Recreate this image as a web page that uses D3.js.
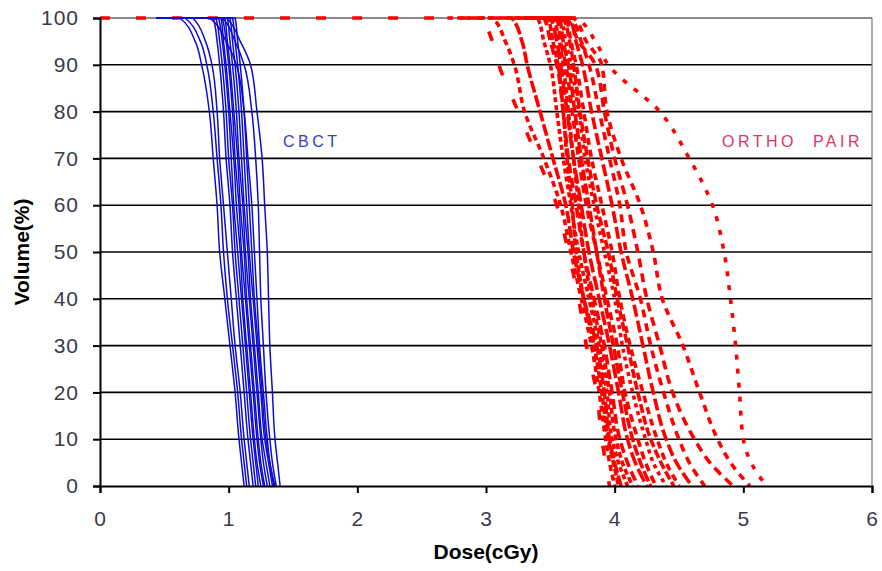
<!DOCTYPE html>
<html>
<head>
<meta charset="utf-8">
<script src="https://cdn.jsdelivr.net/npm/d3@7"></script>
<style>
  body { margin: 0; background: #fff; }
  text { font-family: "Liberation Sans", Arial, sans-serif; }
</style>
</head>
<body>
<svg width="882" height="571"></svg>
<script>
// volume levels (%) shared by every DVH curve
var volumes = [100, 100, 95, 90, 80, 70, 60, 50, 40, 30, 20, 10, 5, 0];

// CBCT curves: dose (cGy) at each volume level
var cbctDoses = [
  [0.44, 0.62, 0.74, 0.79, 0.85, 0.88, 0.91, 0.93, 0.97, 1.01, 1.05, 1.08, 1.10, 1.12],
  [0.44, 0.66, 0.78, 0.83, 0.88, 0.91, 0.94, 0.96, 0.99, 1.03, 1.07, 1.10, 1.12, 1.14],
  [0.44, 0.72, 0.82, 0.87, 0.91, 0.93, 0.96, 0.99, 1.02, 1.05, 1.09, 1.12, 1.14, 1.16],
  [0.44, 0.85, 0.98, 1.06, 1.12, 1.15, 1.18, 1.20, 1.22, 1.24, 1.27, 1.30, 1.32, 1.35],
  [0.44, 0.88, 0.91, 0.93, 0.96, 0.98, 1.01, 1.03, 1.06, 1.09, 1.12, 1.15, 1.17, 1.19],
  [0.44, 0.90, 0.93, 0.95, 0.98, 1.00, 1.03, 1.05, 1.08, 1.11, 1.14, 1.17, 1.19, 1.21],
  [0.44, 0.92, 0.95, 0.97, 1.00, 1.02, 1.04, 1.07, 1.10, 1.13, 1.16, 1.19, 1.21, 1.23],
  [0.44, 0.94, 0.96, 0.98, 1.01, 1.04, 1.06, 1.09, 1.11, 1.14, 1.17, 1.20, 1.22, 1.25],
  [0.44, 0.95, 0.98, 1.00, 1.03, 1.05, 1.08, 1.10, 1.13, 1.16, 1.19, 1.22, 1.24, 1.27],
  [0.44, 0.97, 0.99, 1.01, 1.04, 1.07, 1.09, 1.12, 1.14, 1.17, 1.20, 1.23, 1.25, 1.28],
  [0.44, 0.99, 1.01, 1.03, 1.06, 1.08, 1.11, 1.13, 1.16, 1.19, 1.22, 1.25, 1.27, 1.30],
  [0.44, 1.01, 1.03, 1.05, 1.08, 1.10, 1.12, 1.15, 1.17, 1.20, 1.23, 1.26, 1.29, 1.32],
  [0.44, 1.03, 1.05, 1.07, 1.10, 1.12, 1.14, 1.16, 1.19, 1.22, 1.25, 1.28, 1.31, 1.34],
  [0.44, 1.05, 1.07, 1.09, 1.12, 1.14, 1.16, 1.18, 1.20, 1.23, 1.26, 1.29, 1.32, 1.36],
  [0.44, 0.95, 1.05, 1.12, 1.18, 1.21, 1.23, 1.24, 1.25, 1.27, 1.29, 1.32, 1.34, 1.37],
  [0.44, 0.98, 1.09, 1.17, 1.22, 1.26, 1.28, 1.30, 1.31, 1.32, 1.34, 1.36, 1.38, 1.40]
];

// ORTHO PAIR curves: dose (cGy) at each volume level
var orthoDoses = [
  [0.00, 2.95, 3.05, 3.10, 3.25, 3.40, 3.55, 3.64, 3.72, 3.78, 3.86, 3.90, 3.93, 3.96],
  [2.70, 3.05, 3.15, 3.22, 3.30, 3.45, 3.58, 3.66, 3.74, 3.82, 3.88, 3.93, 3.96, 4.00],
  [2.90, 3.20, 3.28, 3.32, 3.42, 3.52, 3.62, 3.68, 3.76, 3.86, 3.92, 3.96, 4.00, 4.05],
  [3.10, 3.40, 3.45, 3.50, 3.55, 3.60, 3.66, 3.72, 3.80, 3.88, 3.94, 3.98, 4.03, 4.10],
  [3.20, 3.45, 3.50, 3.55, 3.60, 3.64, 3.70, 3.76, 3.84, 3.92, 3.98, 4.04, 4.10, 4.18],
  [3.25, 3.48, 3.52, 3.56, 3.60, 3.63, 3.67, 3.70, 3.76, 3.84, 3.90, 3.95, 3.99, 4.03],
  [3.30, 3.50, 3.55, 3.58, 3.63, 3.68, 3.74, 3.80, 3.88, 3.96, 4.03, 4.10, 4.16, 4.25],
  [3.30, 3.52, 3.57, 3.60, 3.64, 3.68, 3.72, 3.76, 3.82, 3.90, 3.96, 4.01, 4.06, 4.14],
  [3.35, 3.55, 3.58, 3.62, 3.67, 3.72, 3.78, 3.86, 3.94, 4.02, 4.08, 4.18, 4.24, 4.32],
  [3.35, 3.57, 3.60, 3.64, 3.69, 3.74, 3.80, 3.86, 3.92, 3.99, 4.06, 4.14, 4.20, 4.28],
  [3.40, 3.58, 3.62, 3.66, 3.72, 3.77, 3.84, 3.92, 4.00, 4.06, 4.14, 4.24, 4.30, 4.40],
  [3.40, 3.60, 3.65, 3.68, 3.73, 3.79, 3.86, 3.95, 4.02, 4.10, 4.18, 4.28, 4.36, 4.46],
  [3.45, 3.62, 3.66, 3.70, 3.76, 3.82, 3.90, 3.98, 4.04, 4.12, 4.22, 4.33, 4.40, 4.50],
  [3.45, 3.65, 3.70, 3.75, 3.82, 3.90, 3.98, 4.05, 4.14, 4.22, 4.30, 4.40, 4.48, 4.60],
  [3.50, 3.66, 3.74, 3.80, 3.88, 3.96, 4.04, 4.09, 4.20, 4.28, 4.38, 4.50, 4.58, 4.70],
  [3.50, 3.62, 3.72, 3.85, 3.92, 4.00, 4.10, 4.18, 4.25, 4.35, 4.45, 4.62, 4.74, 4.92],
  [3.55, 3.68, 3.78, 3.90, 3.94, 4.05, 4.20, 4.30, 4.37, 4.53, 4.66, 4.80, 4.90, 5.05],
  [3.55, 3.70, 3.85, 3.95, 4.35, 4.58, 4.76, 4.85, 4.90, 4.94, 4.97, 5.00, 5.06, 5.18]
];

var doseTicks = [0, 1, 2, 3, 4, 5, 6];
var volumeTicks = [0, 10, 20, 30, 40, 50, 60, 70, 80, 90, 100];

var svg = d3.select("svg");
var x = d3.scaleLinear().domain([0, 6]).range([100, 872]);
var y = d3.scaleLinear().domain([0, 100]).range([486, 18]);

// grid lines
svg.append("g").selectAll("line")
  .data(volumeTicks.filter(function(v) { return v > 0; }))
  .enter().append("line")
  .attr("x1", x(0)).attr("x2", x(6))
  .attr("y1", function(d) { return y(d); })
  .attr("y2", function(d) { return y(d); })
  .attr("stroke", function(d) { return d == 100 ? "#8a8a8a" : "#000"; })
  .attr("stroke-width", function(d) { return d == 100 ? 2 : 1.6; });

// right border
svg.append("line")
  .attr("x1", x(6)).attr("x2", x(6)).attr("y1", y(100)).attr("y2", y(0))
  .attr("stroke", "#777").attr("stroke-width", 1.2);

var line = d3.line()
  .x(function(d) { return x(d[0]); })
  .y(function(d) { return y(d[1]); })
  .curve(d3.curveMonotoneY);

function toPoints(doses) {
  return doses.map(function(d, i) { return [d, volumes[i]]; });
}

// ortho pair curves, broken red strokes
var dashes = ["10,26", "6,4", "12,3", "5,3", "10,5", "7,2", "14,4", "6,3", "8,5", "11,3", "4,4", "9,3", "7,5", "12,4", "8,6", "9,6", "7,6", "5,9"];
svg.append("g").selectAll("path")
  .data(orthoDoses)
  .enter().append("path")
  .attr("d", function(d) { return line(toPoints(d)); })
  .attr("fill", "none")
  .attr("stroke", "#ff0000")
  .attr("stroke-width", 3.6)
  .attr("stroke-dasharray", function(d, i) { return dashes[i % dashes.length]; });

// CBCT curves
svg.append("g").selectAll("path")
  .data(cbctDoses)
  .enter().append("path")
  .attr("d", function(d) { return line(toPoints(d)); })
  .attr("fill", "none")
  .attr("stroke", "#0c0cd6")
  .attr("stroke-width", 1.5);

// axes
var yAxis = svg.append("g")
  .attr("transform", "translate(" + x(0) + ",0)")
  .call(d3.axisLeft(y).tickValues(volumeTicks).tickFormat(d3.format("d")).tickSize(7).tickPadding(14));
var xAxis = svg.append("g")
  .attr("transform", "translate(0," + y(0) + ")")
  .call(d3.axisBottom(x).tickValues(doseTicks).tickFormat(d3.format("d")).tickSize(7).tickPadding(18));

[yAxis, xAxis].forEach(function(a) {
  a.select(".domain").attr("stroke", "#000").attr("stroke-width", 2);
  a.selectAll(".tick line").attr("stroke", "#000").attr("stroke-width", 2);
  a.selectAll(".tick text")
    .attr("fill", "#3a3a4a")
    .style("font-size", "21px")
    .style("letter-spacing", "1px");
});

// axis titles
svg.append("text")
  .attr("transform", "translate(29," + y(50) + ") rotate(-90)")
  .attr("text-anchor", "middle")
  .style("font-size", "21px")
  .style("font-weight", "bold")
  .text("Volume(%)");

svg.append("text")
  .attr("x", 486).attr("y", 559)
  .attr("text-anchor", "middle")
  .style("font-size", "21px")
  .style("font-weight", "bold")
  .text("Dose(cGy)");

// series labels
svg.append("text")
  .attr("x", 283).attr("y", 147)
  .attr("fill", "#3a3ac8")
  .style("font-size", "16px")
  .style("letter-spacing", "3.5px")
  .text("CBCT");

svg.append("text")
  .attr("x", 722).attr("y", 147)
  .attr("fill", "#e0336a")
  .style("font-size", "16px")
  .style("letter-spacing", "3.5px")
  .attr("xml:space", "preserve")
  .text("ORTHO  PAIR");
</script>
</body>
</html>
